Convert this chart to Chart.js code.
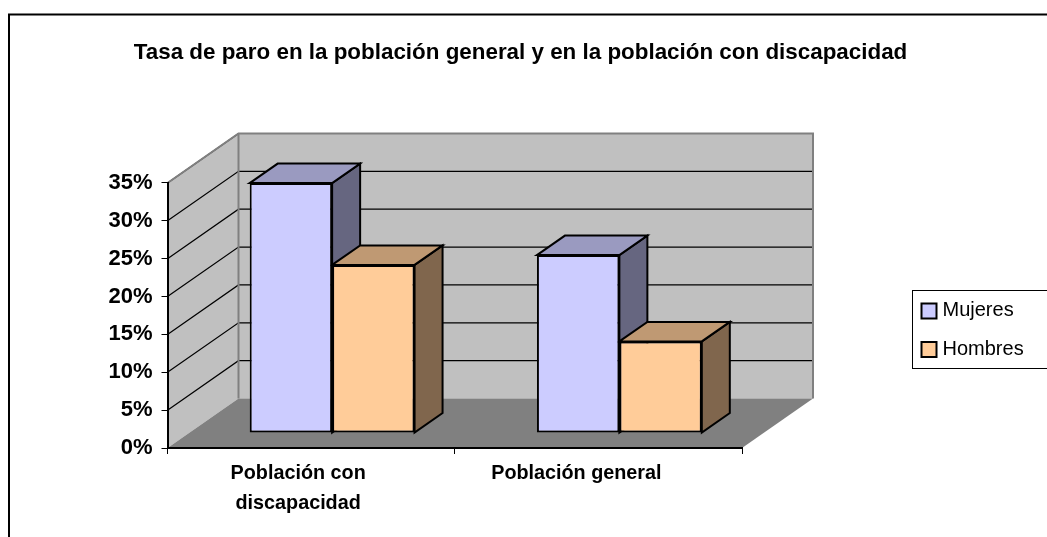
<!DOCTYPE html>
<html>
<head>
<meta charset="utf-8">
<title>Tasa de paro</title>
<script src="https://cdn.jsdelivr.net/npm/chart.js@4"></script>
<style>
  html, body { margin: 0; padding: 0; background: #fff; overflow: hidden; }
  canvas { display: block; }
</style>
</head>
<body>
<canvas id="paroChart" width="1047" height="537"></canvas>
<script>
const categories = [['Población con', 'discapacidad'], 'Población general'];
const mujeres = [33.0, 23.5];
const hombres = [22.2, 12.1];
const titulo = 'Tasa de paro en la población general y en la población con discapacidad';

const font = 'Arial, "Liberation Sans", sans-serif';

// fake 3d: depth of the walls, where the bars stand on the floor, depth of a bar
const wall = { x: 71, y: -49.5 };
const front = { x: 21, y: -15 };
const depth = { x: 28, y: -19.5 };
const labelShift = [-13, -22];

const faces = [
  { top: '#9a9ac0', side: '#666680' },
  { top: '#bf9973', side: '#80664d' }
];

function poly(ctx, pts, fill, stroke, width) {
  ctx.beginPath();
  pts.forEach((p, i) => i ? ctx.lineTo(p[0], p[1]) : ctx.moveTo(p[0], p[1]));
  ctx.closePath();
  ctx.fillStyle = fill;
  ctx.fill();
  if (stroke) {
    ctx.strokeStyle = stroke;
    ctx.lineWidth = width;
    ctx.lineJoin = 'miter';
    ctx.stroke();
  }
}

const scene3d = {
  id: 'scene3d',
  afterLayout(chart) {
    // title is centred on the whole page, not on the plot
    const t = chart.titleBlock;
    t.left = 0;
    t.right = 1041;
    t.width = 1041;

    // labels are not centred under the categories in the original
    chart.scales.x.getLabelItems().forEach((item, i) => {
      item.options.translation[0] += labelShift[i];
    });
  },
  beforeDraw(chart) {
    const ctx = chart.ctx;
    const { left, right, top, bottom } = chart.chartArea;
    const y = chart.scales.y;

    ctx.save();
    ctx.fillStyle = '#fff';
    ctx.fillRect(0, 0, chart.width, chart.height);

    // outer frame, cut by the page at the bottom
    ctx.strokeStyle = '#000';
    ctx.lineWidth = 2;
    ctx.beginPath();
    ctx.moveTo(9, 537);
    ctx.lineTo(9, 14.5);
    ctx.lineTo(1047, 14.5);
    ctx.stroke();

    // walls and floor
    const bx = left + wall.x, by = bottom + wall.y, tx = right + wall.x, ty = top + wall.y;
    poly(ctx, [[left, bottom], [bx, by], [bx, ty], [left, top]], '#c0c0c0');
    poly(ctx, [[bx, ty], [tx, ty], [tx, by], [bx, by]], '#c0c0c0');
    poly(ctx, [[left, bottom], [right, bottom], [tx, by], [bx, by]], '#808080');

    // grid lines run along the side wall then the back wall
    ctx.strokeStyle = '#000';
    ctx.lineWidth = 1.2;
    y.ticks.forEach(t => {
      if (t.value === 0) return;
      const py = y.getPixelForValue(t.value);
      ctx.beginPath();
      ctx.moveTo(left, py);
      ctx.lineTo(bx, py + wall.y);
      ctx.lineTo(tx, py + wall.y);
      ctx.stroke();
    });

    ctx.strokeStyle = '#808080';
    ctx.lineWidth = 2;
    ctx.beginPath();
    ctx.moveTo(left, top);
    ctx.lineTo(bx, ty);
    ctx.lineTo(tx, ty);
    ctx.lineTo(tx, by);
    ctx.moveTo(bx, ty);
    ctx.lineTo(bx, by);
    ctx.stroke();

    // legend, open on the right like the picture
    ctx.fillStyle = '#fff';
    ctx.fillRect(912.5, 290.5, 140, 78);
    ctx.strokeStyle = '#000';
    ctx.lineWidth = 1;
    ctx.strokeRect(912.5, 290.5, 140, 78);
    ctx.font = '20px ' + font;
    ctx.textAlign = 'left';
    ctx.textBaseline = 'alphabetic';
    chart.data.datasets.forEach((ds, d) => {
      const rowY = 303.5 + d * 38.5;
      ctx.fillStyle = ds.backgroundColor;
      ctx.fillRect(921.5, rowY, 15, 15);
      ctx.strokeStyle = '#000';
      ctx.lineWidth = 2;
      ctx.strokeRect(921.5, rowY, 15, 15);
      ctx.fillStyle = '#000';
      ctx.fillText(ds.label, 942.5, rowY + 12.5);
    });
    ctx.restore();
  },
  beforeDatasetsDraw(chart) {
    const ctx = chart.ctx;
    ctx.save();
    ctx.translate(front.x, front.y);
    chart.data.datasets.forEach((ds, d) => {
      chart.getDatasetMeta(d).data.forEach(el => {
        const l = el.x - el.width / 2, r = el.x + el.width / 2;
        poly(ctx, [[r, el.y], [r + depth.x, el.y + depth.y], [r + depth.x, el.base + depth.y], [r, el.base]], faces[d].side, '#000', 2);
        poly(ctx, [[l, el.y], [l + depth.x, el.y + depth.y], [r + depth.x, el.y + depth.y], [r, el.y]], faces[d].top, '#000', 2);
      });
    });
  },
  afterDatasetsDraw(chart) {
    chart.ctx.restore();
  }
};

new Chart(document.getElementById('paroChart'), {
  type: 'bar',
  plugins: [scene3d],
  data: {
    labels: categories,
    datasets: [
      { label: 'Mujeres', data: mujeres, backgroundColor: '#ccccff', borderColor: '#000', borderWidth: 2, borderSkipped: false, clip: false },
      { label: 'Hombres', data: hombres, backgroundColor: '#ffcc99', borderColor: '#000', borderWidth: 2, borderSkipped: false, clip: false }
    ]
  },
  options: {
    responsive: false,
    animation: false,
    categoryPercentage: 0.574,
    barPercentage: 1,
    layout: { padding: { left: 0, right: 305, top: 0, bottom: 0 } },
    plugins: {
      tooltip: { enabled: false },
      legend: { display: false },
      title: {
        display: true,
        text: titulo,
        color: '#000',
        font: { family: font, size: 22.4, weight: 'bold', lineHeight: 1.2 },
        padding: { top: 39.5, bottom: 116.6 }
      }
    },
    scales: {
      x: {
        afterFit(s) { s.height = 89; },
        border: { color: '#000', width: 2 },
        grid: { drawOnChartArea: false, color: '#000', lineWidth: 1, tickLength: 6 },
        ticks: {
          color: '#000',
          maxRotation: 0,
          autoSkip: false,
          padding: 5,
          font: { family: font, size: 19.8, weight: 'bold', lineHeight: 1.5 }
        }
      },
      y: {
        min: 0,
        max: 35,
        afterFit(s) { s.width = 167.5; },
        border: { color: '#000', width: 2 },
        grid: { drawOnChartArea: false, color: '#000', lineWidth: 1, tickLength: 6 },
        ticks: {
          stepSize: 5,
          color: '#000',
          padding: 9,
          callback: v => v + '%',
          font: { family: font, size: 22, weight: 'bold' }
        }
      }
    }
  }
});
</script>
</body>
</html>
